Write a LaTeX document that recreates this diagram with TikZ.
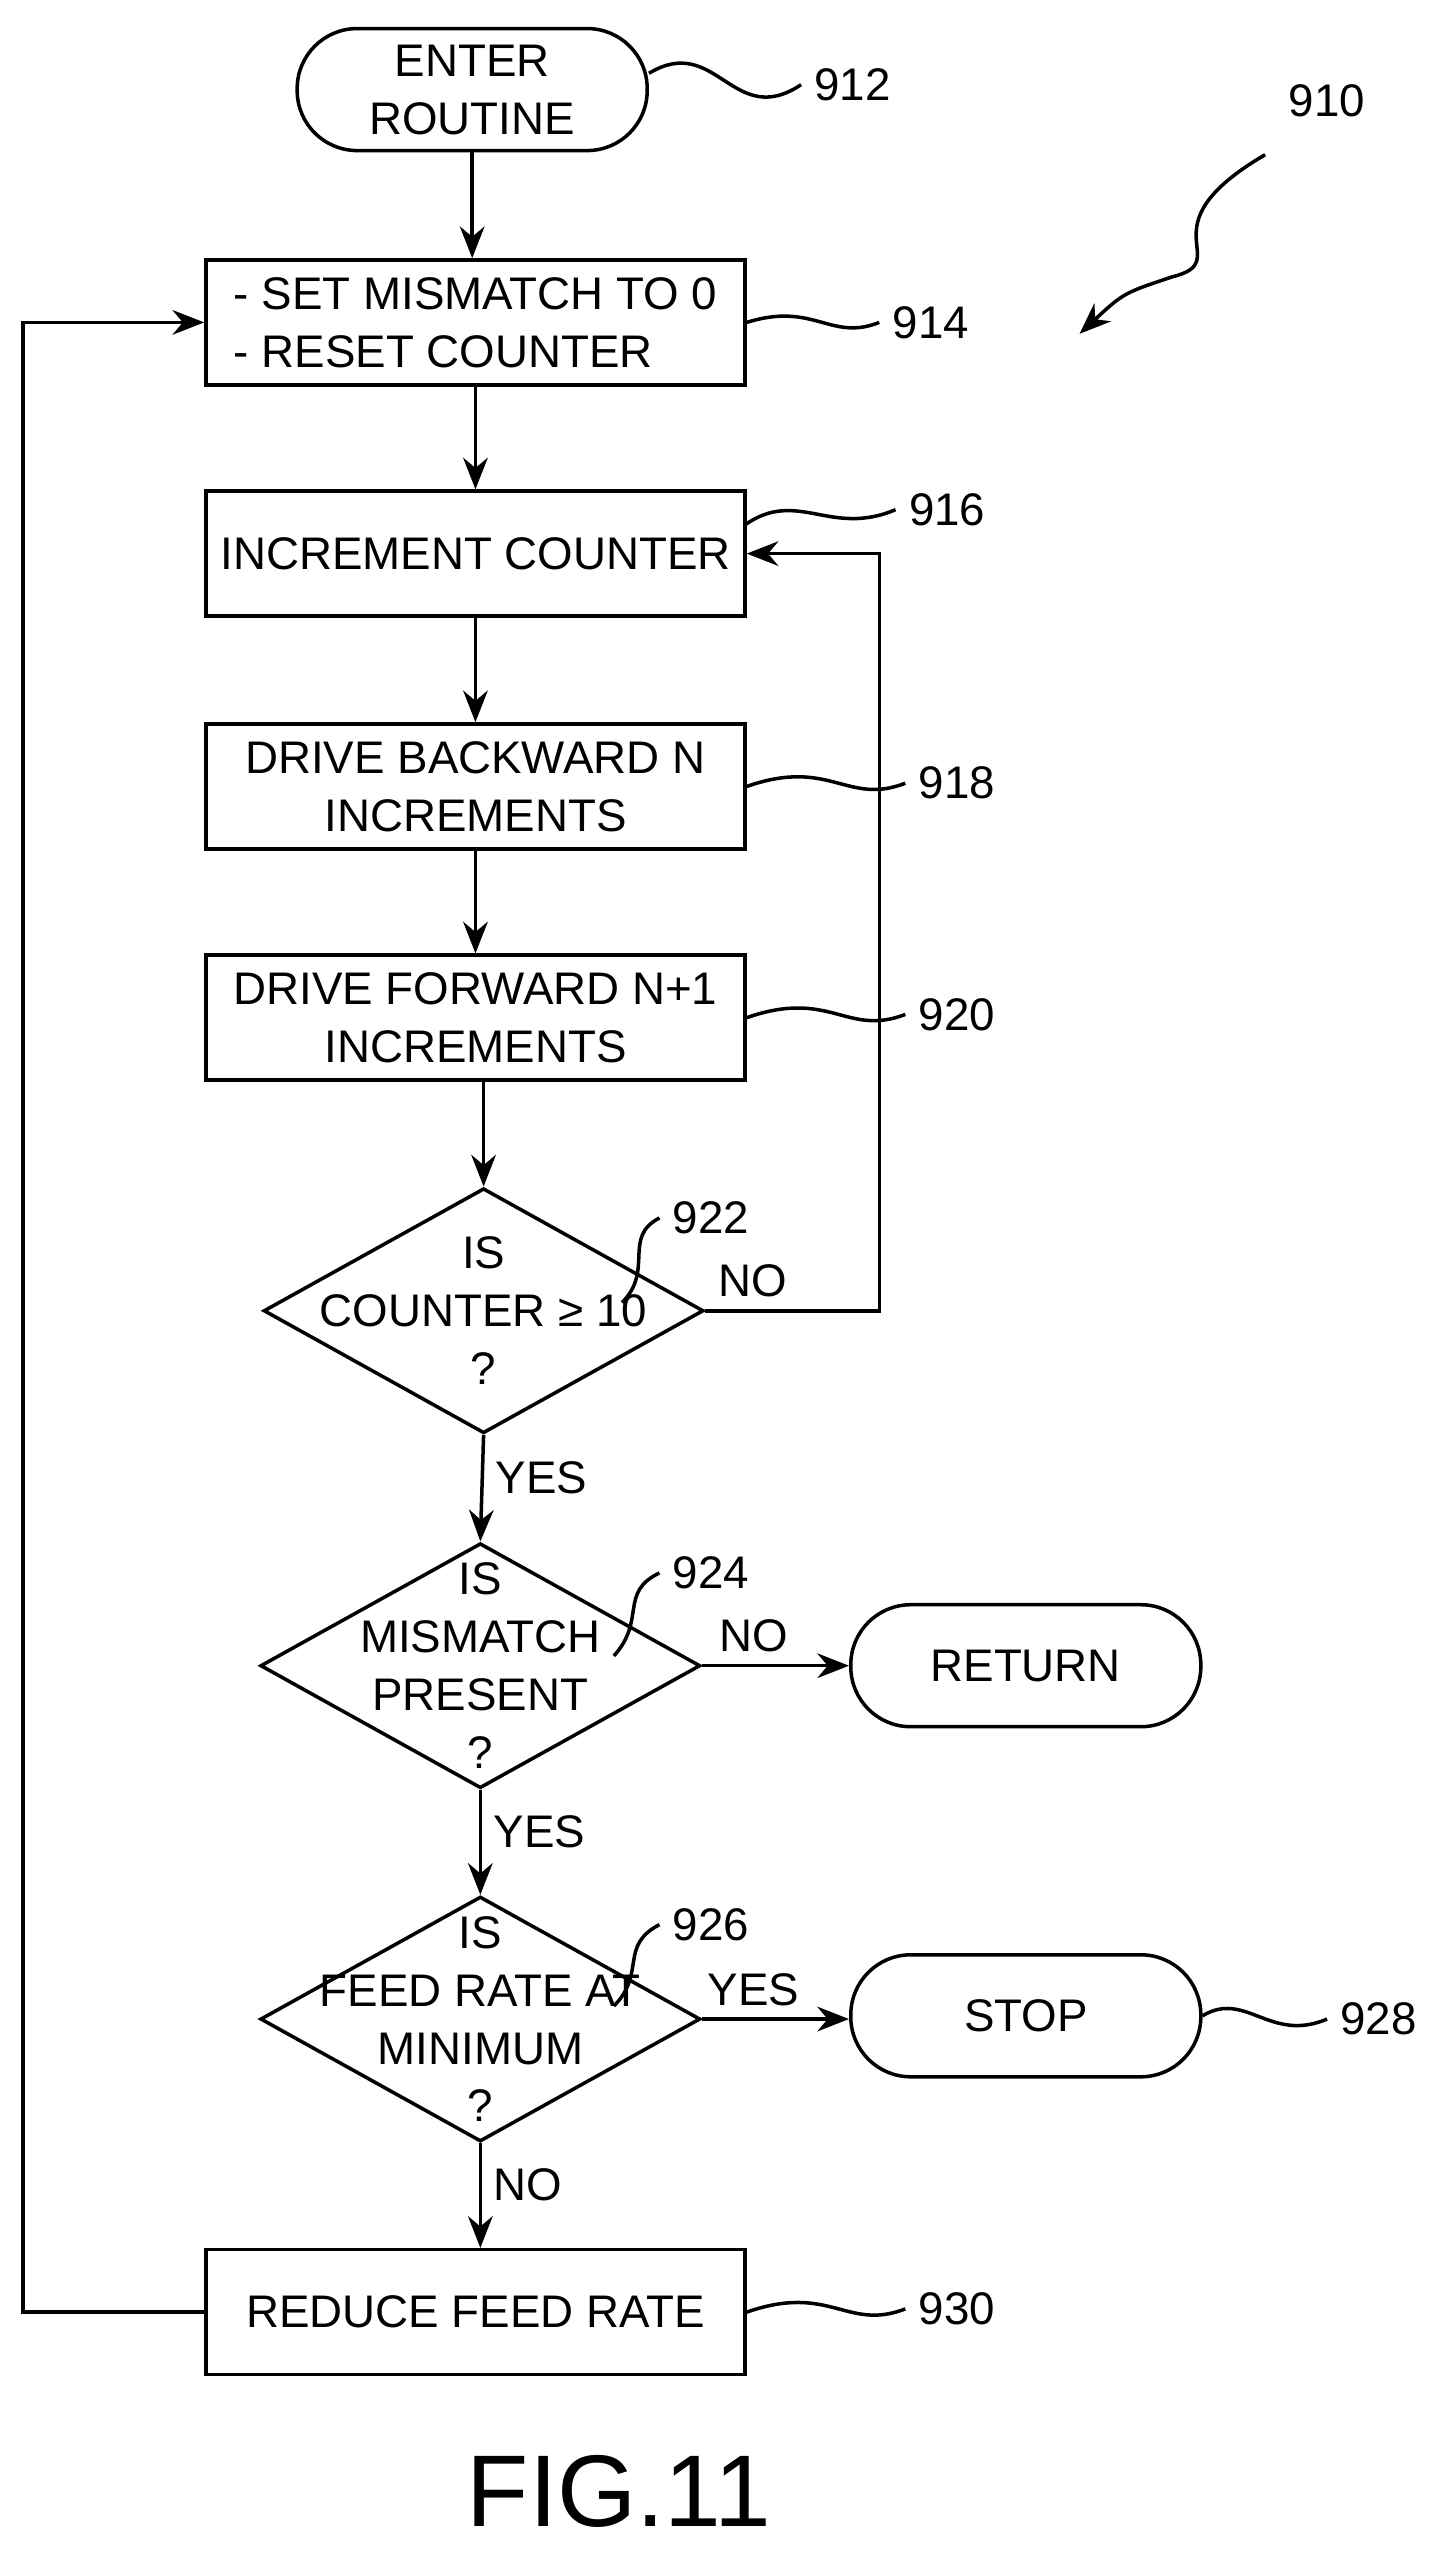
\documentclass[tikz,border=0pt]{standalone}
\usepackage{fontspec}
\setmainfont{Liberation Sans}
\usetikzlibrary{arrows.meta,positioning,shapes.geometric}
\tikzset{
 >={Stealth[length=9pt,width=7pt]},
 every node/.style={font=\fontsize{13}{16.5}\selectfont,align=center},
 procbox/.style={draw,line width=1pt,minimum width=5.39cm,minimum height=1.25cm,inner sep=0pt},
 term/.style={draw,line width=1pt,minimum width=3.5cm,minimum height=1.22cm,rounded corners=0.6cm},
 decide/.style={draw,line width=1pt,diamond,minimum width=4.40cm,minimum height=2.45cm,inner sep=0pt},
 wave/.style={line width=1pt},
 flow/.style={->,line width=1pt}
}
\begin{document}
\begin{tikzpicture}[x=0.01628cm,y=-0.01628cm]
\useasboundingbox (0,0) rectangle (880,1579);
\path (290,55) node[term,name=enter] {ENTER\\ROUTINE};
\path (292,198) node[procbox,name=set,align=left] {- SET MISMATCH TO 0\\- RESET COUNTER};
\path (292,340) node[procbox,name=inc] {INCREMENT COUNTER};
\path (292,483) node[procbox,name=back] {DRIVE BACKWARD N\\INCREMENTS};
\path (292,625) node[procbox,name=fwd] {DRIVE FORWARD N+1\\INCREMENTS};
\path (297,805) node[decide,name=cnt,label=center:{IS\\COUNTER ≥ 10\\?}] {};
\path (295,1023) node[decide,name=mis,label=center:{IS\\MISMATCH\\PRESENT\\?}] {};
\path (295,1240) node[decide,name=feed,label=center:{IS\\FEED RATE AT\\MINIMUM\\?}] {};
\path (630,1023) node[term,name=ret] {RETURN};
\path (630,1238) node[term,name=stop] {STOP};
\path (292,1420) node[procbox,name=red] {REDUCE FEED RATE};
\path (380,1530) node[font=\fontsize{29}{34}\selectfont,name=fig] {FIG.11};

\path[flow] (enter.south|-enter.south) edge (enter.south|-set.north);
\path[flow] (set) edge (inc);
\path[flow] (inc) edge (back);
\path[flow] (back) edge (fwd);
\path[flow] (fwd.south-|cnt.north) edge (cnt.north);
\path[flow] (cnt.south) edge node[right,pos=0.4]{YES} (mis.north);
\path[flow] (mis.south) edge node[right,pos=0.4]{YES} (feed.north);
\path[flow] (feed.south) edge node[right,pos=0.4]{NO} (feed.south|-red.north);
\path[flow] (mis.east) edge node[above,pos=0.35]{NO} (mis.east-|ret.west);
\path[flow] (feed.east) edge node[above,pos=0.35]{YES} (feed.east-|stop.west);
\draw[flow] (cnt.east) node[above right]{NO} -- (540,805) |- (inc.east);
\draw[flow] (red.west) -- (14,1420) |- (set.west);

% reference numerals
\draw[wave] (enter.east|-0,45) .. controls (440,20) and (450,80) .. (492,52) node[right]{912};
\draw[wave] (set.east) .. controls (500,185) and (510,210) .. (540,198) node[right]{914};
\draw[wave] (458,322) .. controls (490,300) and (510,330) .. (550,313) node[right]{916};
\draw[wave] (back.east) .. controls (510,465) and (520,495) .. (556,481) node[right]{918};
\draw[wave] (fwd.east) .. controls (510,607) and (520,637) .. (556,623) node[right]{920};
\draw[wave] (382,800) .. controls (402,780) and (382,760) .. (405,748) node[right]{922};
\draw[wave] (377,1017) .. controls (397,995) and (380,978) .. (405,966) node[right]{924};
\draw[wave] (377,1232) .. controls (397,1212) and (380,1195) .. (405,1182) node[right]{926};
\draw[wave] (stop.east) .. controls (765,1222) and (780,1255) .. (815,1240) node[right]{928};
\draw[wave] (red.east) .. controls (510,1402) and (520,1432) .. (556,1418) node[right]{930};
\path (815,62) node[name=n910] {910};
\draw[line width=1pt,->] (777,95) .. controls (700,140) and (760,160) .. (720,170) .. controls (690,180) .. (663,205);
\end{tikzpicture}
\end{document}
